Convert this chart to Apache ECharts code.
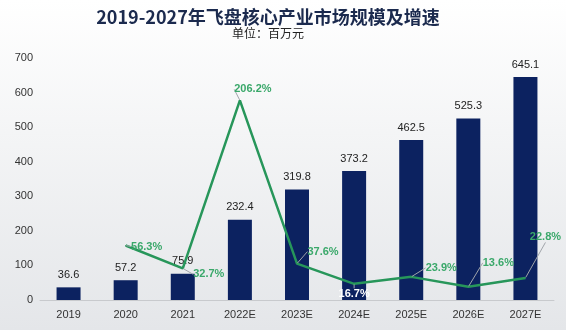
<!DOCTYPE html>
<html>
<head>
<meta charset="utf-8">
<script src="https://cdn.jsdelivr.net/npm/echarts@6/dist/echarts.min.js"></script>
<style>
  html, body { margin: 0; padding: 0; }
  #main { width: 566px; height: 330px; background: linear-gradient(180deg, #ffffff 0%, #f4f5f6 40%, #e4e6e9 100%); }
</style>
</head>
<body>
<div id="main"></div>
<script>
var years = ['2019', '2020', '2021', '2022E', '2023E', '2024E', '2025E', '2026E', '2027E'];
var scale = [36.6, 57.2, 75.9, 232.4, 319.8, 373.2, 462.5, 525.3, 645.1];
var growth = [null, 56.3, 32.7, 206.2, 37.6, 16.7, 23.9, 13.6, 22.8];
var yTicks = [0, 100, 200, 300, 400, 500, 600, 700];

// label shifts for growth labels (dx, dy)
var growthShift = [null, [21, 10], [26, 15], [13, -2], [26, -3], [0, 0], [30, 0], [30, -15], [20, -32]];

var myChart = echarts.init(document.getElementById('main'));
var option = {
    title: {
        text: '2019-2027年飞盘核心产业市场规模及增速',
        subtext: '单位：百万元',
        left: 263,
        textAlign: 'center',
        top: 3,
        itemGap: 1,
        textStyle: { fontSize: 18, fontWeight: 'bold', color: '#1b2a4e', fontFamily: 'Noto Sans CJK SC' },
        subtextStyle: { fontSize: 12, color: '#222', fontFamily: 'Noto Sans CJK SC' }
    },
    grid: { left: 40, right: 12, top: 58, bottom: 30 },
    xAxis: {
        type: 'category',
        data: years,
        axisTick: { show: false },
        axisLine: { lineStyle: { color: '#c8cacd' } },
        axisLabel: { color: '#333', fontSize: 11, margin: 9, fontFamily: 'Liberation Sans' }
    },
    yAxis: [{
        type: 'value',
        min: yTicks[0],
        max: yTicks[yTicks.length - 1],
        interval: 100,
        splitLine: { show: false },
        axisLine: { show: false },
        axisLabel: { color: '#333', fontSize: 11, margin: 7, fontFamily: 'Liberation Sans' }
    }, {
        type: 'value',
        min: 0,
        max: 250,
        show: false,
        splitLine: { show: false }
    }],
    series: [{
        type: 'bar',
        data: scale,
        barWidth: 24,
        itemStyle: { color: '#0c2260' },
        label: {
            show: true,
            position: 'top',
            distance: 7,
            color: '#222',
            fontSize: 11,
            fontFamily: 'Liberation Sans'
        }
    }, {
        type: 'line',
        yAxisIndex: 1,
        data: growth.map(function (v, i) {
            if (v === null) return null;
            if (i === 5) {
                return { value: v, label: { position: 'bottom', color: '#fff', distance: 4 } };
            }
            return v;
        }),
        symbol: 'circle',
        symbolSize: 1,
        showSymbol: true,
        itemStyle: { color: '#27965a' },
        lineStyle: { color: '#27965a', width: 2.5 },
        label: {
            show: true,
            position: 'top',
            distance: 3,
            color: '#3aa86a',
            fontSize: 11,
            fontWeight: 'bold',
            fontFamily: 'Liberation Sans',
            formatter: function (p) { return p.value + '%'; }
        },
        labelLine: { show: true, lineStyle: { color: '#a0a4aa', width: 1 } },
        labelLayout: function (p) {
            var s = growthShift[p.dataIndex];
            if (!s) return {};
            return { dx: s[0], dy: s[1] };
        }
    }]
};
myChart.setOption(option);
</script>
</body>
</html>
